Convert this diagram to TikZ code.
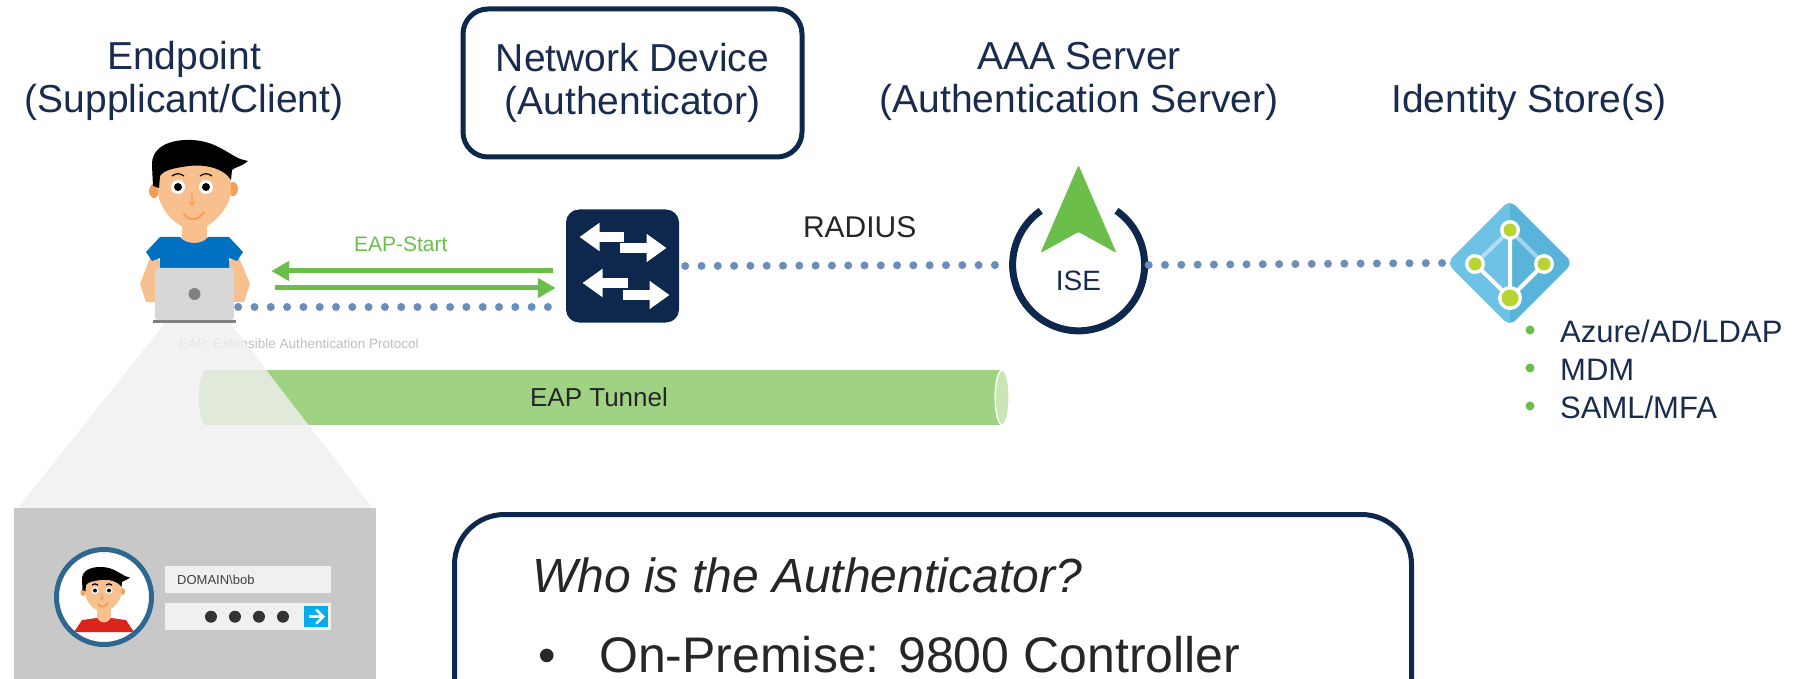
\documentclass[tikz,border=0pt]{standalone}
\usepackage{fontspec}
\setmainfont{Liberation Sans}
\usepackage{tikz}
\usetikzlibrary{arrows.meta,shapes.geometric}

\definecolor{navy}{RGB}{13,39,77}
\definecolor{textnavy}{RGB}{26,44,78}
\definecolor{eapgreen}{RGB}{108,190,75}
\definecolor{tunnelgreen}{RGB}{160,210,131}
\definecolor{tunnelcap}{RGB}{201,230,182}
\definecolor{dotblue}{RGB}{107,141,186}
\definecolor{skin}{RGB}{249,192,143}
\definecolor{earorange}{RGB}{245,158,88}
\definecolor{shirtblue}{RGB}{0,112,192}
\definecolor{shirtred}{RGB}{218,37,29}
\definecolor{ringblue}{RGB}{46,104,145}
\definecolor{azure}{RGB}{89,180,217}
\definecolor{azurelight}{RGB}{110,194,230}
\definecolor{nodelime}{RGB}{184,212,50}
\definecolor{panelgray}{RGB}{200,200,200}
\definecolor{fieldgray}{RGB}{240,240,240}
\definecolor{gobtn}{RGB}{0,174,239}
\definecolor{beamgray}{RGB}{239,239,239}
\definecolor{notegray}{RGB}{190,190,190}
\definecolor{laptopgray}{RGB}{215,215,215}

\newcommand\fsize[2]{\fontsize{#1pt}{#2pt}\selectfont}

\tikzset{
  face/.pic={
    \fill[earorange] (-40,-7) ellipse[x radius=5, y radius=7] (39,-9) ellipse[x radius=5, y radius=7];
    \fill[skin] (-35,-36) -- (36,-36) -- (37,-5) .. controls (34,14) and (14,32) .. (0,32) .. controls (-14,32) and (-34,14) .. (-36,-5) -- cycle;
    \fill[black] (-35,-10) -- (-41,-12) -- (-42,-32) .. controls (-43,-50) and (-26,-59) .. (-2,-58) .. controls (20,-57) and (32,-46) .. (44,-40) .. controls (48,-38) and (51,-38) .. (54,-37) .. controls (47,-31) and (41,-31) .. (38,-28) -- (37,-18) .. controls (30,-30) and (10,-34) .. (-5,-32) .. controls (-20,-30) and (-30,-28) .. (-34,-22) -- cycle;
    \fill[white] (-16,-11) circle[radius=7] (12,-11) circle[radius=7];
    \fill[black] (-16,-11) circle[radius=4] (12,-11) circle[radius=4];
    \draw[line width=1.2pt] (-22,-22) .. controls (-18,-25) and (-14,-25) .. (-10,-22) (6,-22) .. controls (10,-25) and (14,-25) .. (18,-22);
    \draw[earorange, line width=1.3pt, line cap=round, line join=round] (-2,-5) -- (-2,7) (-5,4) -- (-2,7) -- (1,4);
    \draw[earorange, line width=2pt, line cap=round] (-10,16) .. controls (-6,23) and (4,23) .. (8,16) -- (10,14);
  }
}

\begin{document}
\begin{tikzpicture}[x=1pt, y=-1pt, every node/.style={inner sep=0pt},
  title/.style={align=center, text=textnavy, font=\fsize{39}{43}},
  dotline/.style={dotblue, line width=8pt, line cap=round, dash pattern=on 0pt off 16.3pt},
  eaparrow/.style={eapgreen, line width=5pt, -{Triangle[length=18pt, width=19pt]}},
  swarrow/.style={white, line width=10pt, -{Triangle[length=20pt, width=27pt]}},
  field/.style={fill=fieldgray, minimum width=166pt, minimum height=27pt, anchor=north west}]

\useasboundingbox (0,0) rectangle (1800,679);
\clip (0,0) rectangle (1800,679);

% headings
\node[title] (ep) at (184,81) {Endpoint\\(Supplicant/Client)};
\node[title, draw=navy, line width=5pt, rounded corners=25pt, minimum width=339pt, minimum height=148pt] (nad) at (632.5,83) {Network Device\\(Authenticator)};
\node[title] (aaa) at (1079,81) {AAA Server\\(Authentication Server)};
\node[title, anchor=base] (idt) at (1529,113) {Identity Store(s)};

% tunnel
\node[fill=tunnelgreen, minimum width=796pt, minimum height=55pt] (tunnel) at (604,397.5) {};
\fill[tunnelgreen] (tunnel.west) ellipse[x radius=7pt, y radius=27.5pt];
\filldraw[fill=tunnelcap, draw=white, line width=1.5pt] (tunnel.east) ellipse[x radius=7pt, y radius=27.5pt];
\node[font=\fsize{26}{30}, text=black!85] at ([xshift=-5pt]tunnel.center) {EAP Tunnel};

\node[anchor=west, font=\fsize{13.5}{15}, text=notegray] (note) at (179,344) {EAP: Extensible Authentication Protocol};

% endpoint user
\fill[skin] (151,255) -- (140,284) -- (146,302) -- (162,302) -- (162,262) -- cycle;
\fill[skin] (238,255) -- (250,284) -- (244,302) -- (228,302) -- (228,262) -- cycle;
\fill[skin] (182,222) rectangle (207,245);
\fill[shirtblue] (180,237) .. controls (186,245) and (203,245) .. (208,237) -- (229,237) -- (243,252) -- (237,261) -- (229,258) -- (229,278) -- (160,278) -- (160,258) -- (152,261) -- (146,252) -- (160,237) -- cycle;
\pic at (194,198) {face};
\node[fill=laptopgray, rounded corners=3pt, minimum width=79pt, minimum height=52pt] (laptop) at (194.5,294) {};
\fill[gray] ([xshift=-2pt]laptop.south west) rectangle ([xshift=2pt, yshift=-3pt]laptop.south east);
\fill[gray] (laptop.center) circle[radius=6pt];

% login screen
\node[fill=panelgray, minimum width=362pt, minimum height=171pt, anchor=north west] (login) at (14,508) {};
\fill[beamgray, opacity=0.81] ([xshift=10pt, yshift=-3pt]laptop.south west) -- ([xshift=-4pt, yshift=-3pt]laptop.south east) -- ([xshift=-4pt]login.north east) -- ([xshift=4pt]login.north west) -- cycle;
\node[circle, draw=ringblue, line width=5pt, fill=white, minimum size=95pt] (avatar) at (104,597) {};
\begin{scope}
  \clip (avatar.center) circle[radius=45pt];
  \fill[skin] (97,606) rectangle (111,622);
  \fill[shirtred] (82,620) -- (97,618) .. controls (100,624) and (108,624) .. (111,618) -- (126,620) -- (134,632) -- (74,632) -- cycle;
  \pic[scale=0.5] at (103,596) {face};
\end{scope}
\node[field, text width=142pt, inner xsep=12pt, align=left, font=\fsize{13}{15}, text=black!75] (user) at (165,566) {DOMAIN\textbackslash bob};
\node[field] (pass) at (165,603) {};
\fill[black!80] ([xshift=46pt]pass.west) circle[radius=6pt] ([xshift=70pt]pass.west) circle[radius=6pt] ([xshift=94pt]pass.west) circle[radius=6pt] ([xshift=118pt]pass.west) circle[radius=6pt];
\node[fill=gobtn, minimum width=24pt, minimum height=21pt, anchor=east] (go) at ([xshift=-3pt]pass.east) {};
\draw[white, line width=2.5pt] ([xshift=-7pt]go.center) -- ([xshift=5pt]go.center);
\draw[white, line width=2.5pt, line join=miter] ([shift={(0,-7)}]go.center) -- ([shift={(7,0)}]go.center) -- ([shift={(0,7)}]go.center);

% switch
\node[fill=navy, rounded corners=13pt, minimum size=113pt] (sw) at (622.5,266) {};
\begin{scope}[shift={(sw.center)}]
  \draw[swarrow] (-3,-18) -- (44,-18);
  \draw[swarrow] (1,-29) -- (-43,-29);
  \draw[swarrow] (0,29) -- (47,29);
  \draw[swarrow] (5,17) -- (-40,17);
\end{scope}

% ISE
\node[circle, minimum size=132pt] (ise) at (1078.5,265) {};
\draw[navy, line width=7pt] (ise.55) arc[start angle=55, end angle=-235, radius=66pt];
\begin{scope}[shift={(ise.center)}]
  \fill[eapgreen, rounded corners=1.5pt] (0,-100) -- (38,-12) -- (0,-33) -- (-38,-12) -- cycle;
\end{scope}
\node[font=\fsize{28}{32}, text=textnavy] at ([yshift=-16pt]ise.center) {ISE};

% identity store
\node[diamond, minimum width=126pt, minimum height=126pt, fill=azure, rounded corners=8pt] (ids) at (1510,263) {};
\begin{scope}
  \clip[rounded corners=8pt] (ids.north) -- (ids.east) -- (ids.south) -- (ids.west) -- cycle;
  \fill[azurelight] (ids.north) -- (ids.center) -- (ids.south) -- (ids.west) -- cycle;
\end{scope}
\begin{scope}[shift={(ids.center)}]
  \draw[white, line width=4pt, opacity=0.45] (-35,1) -- (0,-33) -- (34,1);
  \draw[white, line width=4pt] (0,-33) -- (0,35) (-35,1) -- (0,35) -- (34,1);
  \fill[white] (0,-33) circle[radius=10] (-35,1) circle[radius=10] (34,1) circle[radius=10] (0,35) circle[radius=12];
  \fill[nodelime] (0,-33) circle[radius=6.5] (-35,1) circle[radius=6.5] (34,1) circle[radius=6.5] (0,35) circle[radius=8.5];
\end{scope}
\node[anchor=base west, font=\fsize{31}{35}, text=textnavy] (st1) at (1560,342) {Azure/AD/LDAP};
\node[anchor=base west, font=\fsize{31}{35}, text=textnavy] (st2) at (1560,380) {MDM};
\node[anchor=base west, font=\fsize{31}{35}, text=textnavy] (st3) at (1560,418) {SAML/MFA};
\fill[eapgreen] ([xshift=-30pt, yshift=12pt]st1.base west) circle[radius=4.5pt] ([xshift=-30pt, yshift=12pt]st2.base west) circle[radius=4.5pt] ([xshift=-30pt, yshift=12pt]st3.base west) circle[radius=4.5pt];

% links
\draw[eaparrow] ([xshift=-13pt, yshift=-5pt]sw.west) -- node[pos=0.54, above=17pt, text=eapgreen, font=\fsize{21}{24}] {EAP-Start} ([xshift=37pt, yshift=23pt]laptop.east);
\draw[eaparrow] ([xshift=41pt, yshift=6pt]laptop.east) -- ([xshift=-10pt, yshift=-22pt]sw.west);
\draw[dotline] ([xshift=4pt, yshift=-13pt]laptop.east) -- ([xshift=-8pt, yshift=-41pt]sw.west);
\draw[dotline] ([xshift=6pt]sw.east) -- node[pos=0.54, above=24pt, text=black!85, font=\fsize{30}{34}] {RADIUS} ([xshift=-4pt]ise.west);
\draw[dotline] ([xshift=4pt]ise.east) -- ([xshift=-4pt]ids.west);

% authenticator note
\node[draw=navy, line width=5pt, rounded corners=50pt, minimum width=957pt, minimum height=240pt, anchor=north west] (who) at (452,512) {};
\node[anchor=base west, font=\fsize{48}{52}\itshape, text=black!85] at ([shift={(80,80)}]who.north west) {Who is the Authenticator?};
\node[anchor=base west, font=\fsize{50}{54}, text=black!85] at ([shift={(86,160)}]who.north west) {\makebox[61pt][l]{•}On-Premise: 9800 Controller};
\end{tikzpicture}
\end{document}
